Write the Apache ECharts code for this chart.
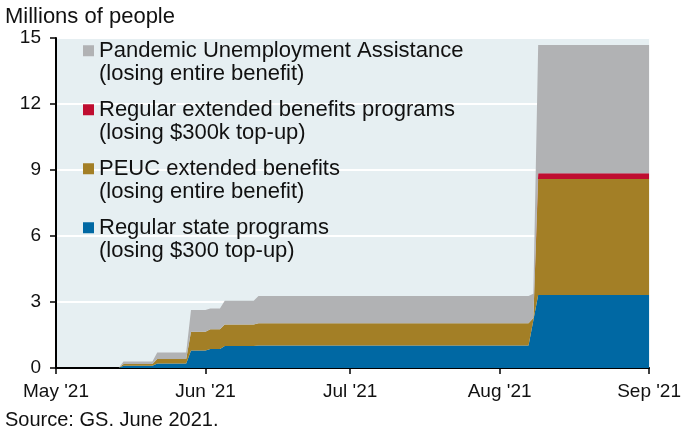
<!DOCTYPE html>
<html>
<head>
<meta charset="utf-8">
<script src="https://cdn.jsdelivr.net/npm/echarts@6/dist/echarts.min.js"></script>
<style>
  html, body { margin: 0; padding: 0; background: #fff; }
  #chart { width: 684px; height: 436px; }
</style>
</head>
<body>
<div id="chart"></div>
<script>
// Weekly roll-off of benefit recipients, millions of people (stacked)
const dates = [
  '2021-05-01', '2021-05-14', '2021-05-15', '2021-05-21', '2021-05-22',
  '2021-05-28', '2021-05-29', '2021-06-01', '2021-06-02', '2021-06-04',
  '2021-06-05', '2021-06-11', '2021-06-12', '2021-08-07', '2021-08-08',
  '2021-08-09', '2021-09-01'
];
const regularState    = [0, 0, 0.10, 0.10, 0.21, 0.21, 0.79, 0.79, 0.86, 0.86, 1.00, 1.00, 1.02, 1.02, 2.17, 3.32, 3.32];
const peucExtended    = [0, 0, 0.08, 0.08, 0.20, 0.20, 0.86, 0.86, 0.90, 0.90, 0.98, 0.98, 1.01, 1.01, 0.10, 5.27, 5.27];
const regularExtended = [0, 0, 0,    0,    0,    0,    0,    0,    0,    0,    0,    0,    0,    0,    0,    0.26, 0.26];
const pandemicUA      = [0, 0, 0.11, 0.11, 0.29, 0.29, 0.99, 0.99, 0.95, 0.95, 1.08, 1.08, 1.24, 1.24, 1.10, 5.83, 5.83];

const seriesNames = [
  'Pandemic Unemployment Assistance',
  'Regular extended benefits programs',
  'PEUC extended benefits',
  'Regular state programs'
];
const seriesNotes = [
  '(losing entire benefit)',
  '(losing $300k top-up)',
  '(losing entire benefit)',
  '(losing $300 top-up)'
];
const monthLabels = { 4: "May '21", 5: "Jun '21", 6: "Jul '21", 7: "Aug '21", 8: "Sep '21" };
const yTicks = [0, 3, 6, 9, 12, 15];

const FONT = 'Liberation Sans, Arial, sans-serif';
const TEXT = '#111';
const colors = {
  blue: '#0068a3',
  gold: '#a37f26',
  red: '#bf0d30',
  gray: '#b1b2b4'
};

function pairs(values) {
  return dates.map((d, i) => [d, values[i]]);
}

function areaSeries(name, values, color) {
  return {
    name: name,
    type: 'line',
    stack: 'total',
    data: pairs(values),
    symbol: 'none',
    showSymbol: false,
    lineStyle: { width: 0, color: color },
    itemStyle: { color: color },
    areaStyle: { color: color, opacity: 1 },
    emphasis: { disabled: true },
    silent: true
  };
}

const chart = echarts.init(document.getElementById('chart'), null, { renderer: 'canvas' });

const legendTop = 39;
const itemStep = 59;
const lineStep = 23.5;

chart.setOption({
  animation: false,
  backgroundColor: '#ffffff',
  grid: {
    left: 56, right: 31, top: 38, bottom: 68,
    show: true,
    backgroundColor: '#e6eff2',
    borderWidth: 0
  },
  legend: {
    data: seriesNames,
    orient: 'vertical',
    left: 83,
    top: legendTop,
    padding: 0,
    itemWidth: 11,
    itemHeight: 11,
    itemGap: itemStep - lineStep,
    icon: 'rect',
    selectedMode: false,
    textStyle: { fontFamily: FONT, fontSize: 22, color: TEXT, lineHeight: lineStep }
  },
  graphic: [
    {
      type: 'text', left: 5, top: 6,
      style: { text: 'Millions of people', fontFamily: FONT, fontSize: 22, fill: TEXT }
    },
    {
      type: 'text', left: 5, top: 410,
      style: { text: 'Source: GS. June 2021.', fontFamily: FONT, fontSize: 20, fill: TEXT }
    }
  ].concat(seriesNotes.map((note, i) => ({
    type: 'text',
    left: 99,
    top: legendTop + lineStep + i * itemStep,
    style: { text: note, fontFamily: FONT, fontSize: 22, fill: TEXT, lineHeight: lineStep, verticalAlign: 'top' },
    z: 100
  }))),
  xAxis: {
    type: 'time',
    min: '2021-05-01',
    max: '2021-09-01',
    minInterval: 28 * 86400000,
    maxInterval: 31 * 86400000,
    axisLine: { show: true, lineStyle: { color: '#000', width: 2 } },
    axisTick: { show: true, length: 6, lineStyle: { color: '#000', width: 1.5 } },
    splitLine: { show: false },
    axisLabel: {
      show: true,
      showMinLabel: true,
      showMaxLabel: true,
      hideOverlap: false,
      margin: 14,
      fontFamily: FONT,
      fontSize: 19,
      color: TEXT,
      formatter: function (v) {
        const m = new Date(v).getMonth();
        return monthLabels[m] || '';
      }
    }
  },
  yAxis: {
    type: 'value',
    min: yTicks[0],
    max: yTicks[yTicks.length - 1],
    interval: 3,
    axisLine: { show: true, lineStyle: { color: '#000', width: 2 } },
    axisTick: { show: true, length: 6, lineStyle: { color: '#000', width: 1.5 } },
    splitLine: { show: true, lineStyle: { color: '#ffffff', width: 2 } },
    axisLabel: { margin: 15, fontFamily: FONT, fontSize: 19, color: TEXT }
  },
  series: [
    areaSeries(seriesNames[3], regularState, colors.blue),
    areaSeries(seriesNames[2], peucExtended, colors.gold),
    areaSeries(seriesNames[1], regularExtended, colors.red),
    areaSeries(seriesNames[0], pandemicUA, colors.gray)
  ]
});
</script>
</body>
</html>
